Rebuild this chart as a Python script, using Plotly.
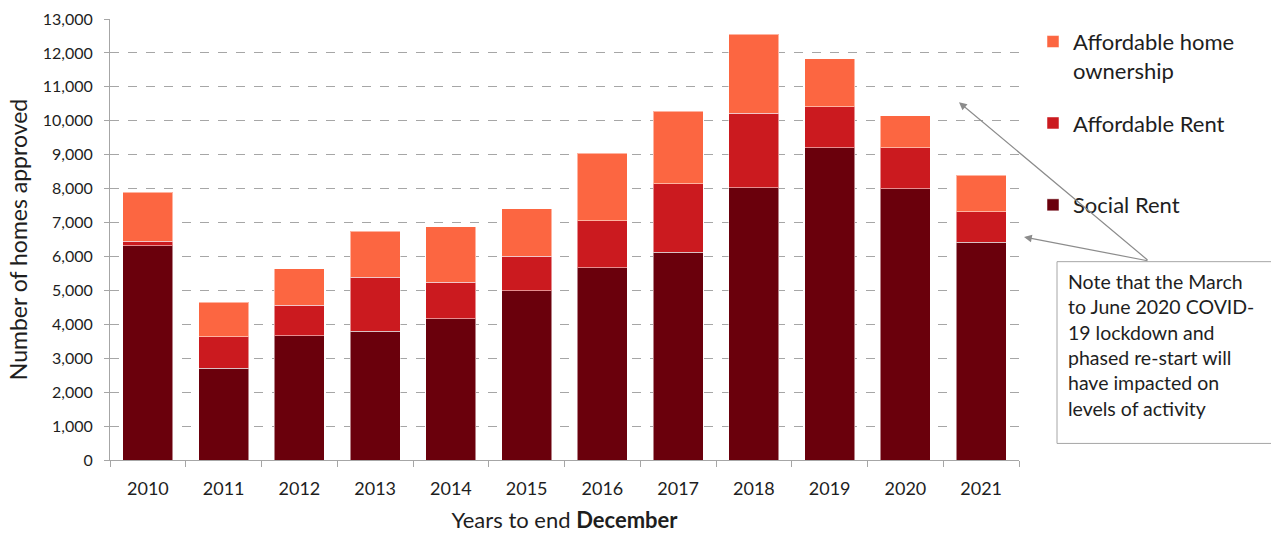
import plotly.graph_objects as go

years = ["2010", "2011", "2012", "2013", "2014", "2015", "2016", "2017", "2018", "2019", "2020", "2021"]
social_rent = [6320, 2700, 3660, 3800, 4160, 4990, 5670, 6130, 8020, 9200, 7990, 6420]
affordable_rent = [130, 930, 900, 1590, 1080, 1020, 1390, 2020, 2200, 1210, 1210, 900]
affordable_home_ownership = [1450, 1020, 1080, 1360, 1640, 1390, 1980, 2130, 2330, 1420, 950, 1080]

names = ["Social Rent", "Affordable Rent", "Affordable home<br>ownership"]
colors = ["#6A000C", "#CB1A1F", "#FC6641"]
series = [social_rent, affordable_rent, affordable_home_ownership]
legends = ["legend3", "legend2", "legend"]

FONT = "Lato"
TXT = "#1E1E1E"

# plot area in pixels (for placing overlays)
L, R, T, B = 110, 1019, 18.7, 460.3
def px(x):
    return (x - L) / (R - L)
def py(y):
    return (B - y) / (B - T)

fig = go.Figure()
for nm, col, vals, lg in zip(names, colors, series, legends):
    fig.add_trace(go.Bar(
        x=years, y=vals, name=nm, marker_color=col,
        marker_line=dict(color="rgba(255,255,255,0.5)", width=1),
        legend=lg,
    ))

legend_common = dict(
    xanchor="left", yanchor="middle", valign="top",
    font=dict(size=22, family=FONT, color=TXT),
    itemwidth=30, bgcolor="rgba(0,0,0,0)",
)

fig.update_layout(
    barmode="stack",
    bargap=0.34,
    width=1271, height=533,
    margin=dict(l=110, r=252, t=19, b=73, autoexpand=False),
    plot_bgcolor="white", paper_bgcolor="white",
    font=dict(family=FONT, color=TXT),
    showlegend=True,
    legend=dict(x=px(1033), y=py(56), **legend_common),
    legend2=dict(x=px(1033), y=py(123), **legend_common),
    legend3=dict(x=px(1033), y=py(205), **legend_common),
    yaxis=dict(
        range=[0, 13000], dtick=1000, tickformat=",",
        showgrid=True, gridcolor="#A6A6A6", griddash="dash", gridwidth=1,
        showline=True, linecolor="#A6A6A6", linewidth=1,
        ticks="outside", ticklen=5, tickcolor="#A6A6A6",
        ticklabelstandoff=8, automargin=False,
        tickfont=dict(size=16, family=FONT, color=TXT),
        title=dict(text="Number of homes approved", font=dict(size=23, family=FONT, color=TXT), standoff=8),
        zeroline=False,
    ),
    xaxis=dict(
        showline=True, linecolor="#A6A6A6", linewidth=1,
        ticks="outside", ticklen=6, tickcolor="#A6A6A6", tickson="boundaries",
        ticklabelstandoff=12, automargin=False,
        tickfont=dict(size=18, family=FONT, color=TXT),
        title=dict(text="Years to end <b>December</b>", font=dict(size=22, family=FONT, color=TXT), standoff=15),
    ),
)

note = ("Note that the March<br>to June 2020 COVID-<br>19 lockdown and<br>"
        "phased re-start will<br>have impacted on<br>levels of activity")

fig.add_shape(type="rect", xref="paper", yref="paper",
              x0=px(1057), x1=px(1275), y0=py(443.7), y1=py(261.7),
              line=dict(color="#A6A6A6", width=1), fillcolor="white", layer="above")
fig.add_annotation(xref="paper", yref="paper",
                   x=px(1066), y=py(268),
                   xanchor="left", yanchor="top", align="left",
                   text=note, showarrow=False,
                   font=dict(size=19.5, family=FONT, color=TXT))

# arrows (head position in paper coords, tail as pixel offset)
for tx, ty in [(959, 102), (1024, 237)]:
    fig.add_annotation(xref="paper", yref="paper",
                       x=px(tx), y=py(ty),
                       ax=1149 - tx, ay=261 - ty,
                       text="", showarrow=True, arrowhead=2, arrowsize=1.3,
                       arrowwidth=1.2, arrowcolor="#8C8C8C")

fig.write_html("out.html")
